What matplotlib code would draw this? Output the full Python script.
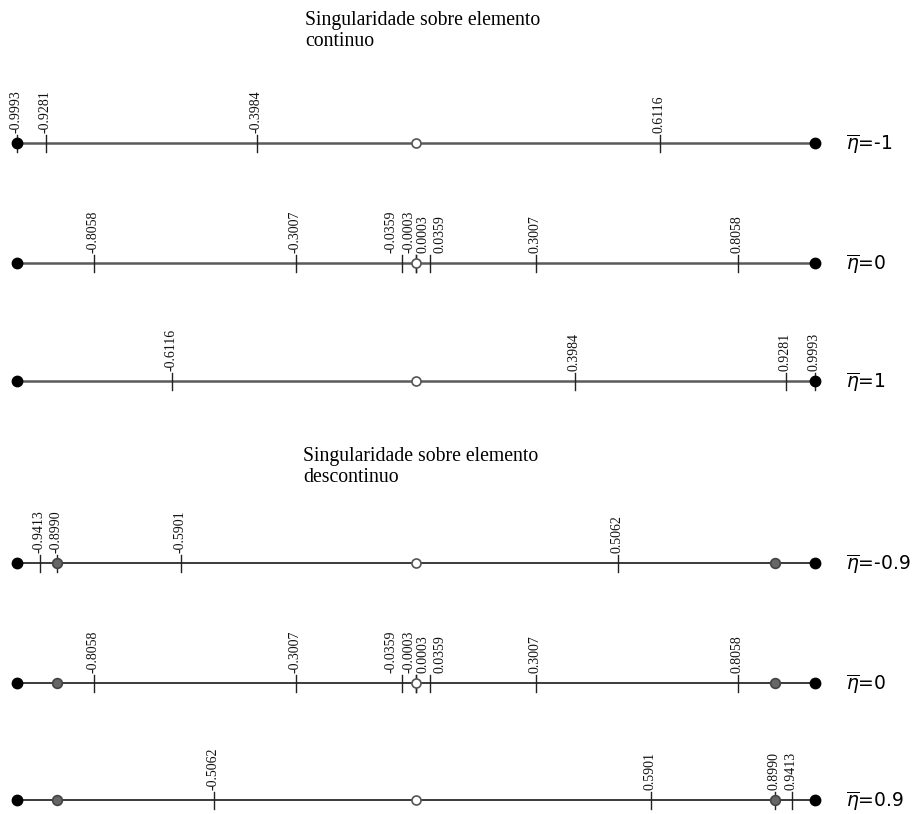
import matplotlib
matplotlib.use("Agg")
import matplotlib.pyplot as plt
import matplotlib.transforms as mtransforms

# ---- data ----
eta_values = ["-1", "0", "1", "-0.9", "0", "0.9"]
ticks_row1 = [-0.9993, -0.9281, -0.3984, 0.6116]
ticks_row2 = [-0.8058, -0.3007, -0.0359, -0.0003, 0.0003, 0.0359, 0.3007, 0.8058]
ticks_row3 = [-0.6116, 0.3984, 0.9281, 0.9993]
ticks_row4 = [-0.9413, -0.8990, -0.5901, 0.5062]
ticks_row5 = [-0.8058, -0.3007, -0.0359, -0.0003, 0.0003, 0.0359, 0.3007, 0.8058]
ticks_row6 = [-0.5062, 0.5901, 0.8990, 0.9413]
all_ticks = [ticks_row1, ticks_row2, ticks_row3, ticks_row4, ticks_row5, ticks_row6]
element_ends = [-1.0, 1.0]
element_center = 0.0
discontinuous_nodes = [-0.9, 0.9]
discontinuous_rows = [False, False, False, True, True, True]
title_line1 = "Singularidade sobre elemento"
title_cont = "continuo"
title_disc = "descontinuo"

# ---- layout ----
W, H = 922, 814
fig = plt.figure(figsize=(W / 100, H / 100), dpi=100)
ax = fig.add_axes([0, 0, 1, 1])
ax.axis("off")
cx, scale = 416.0, 399.0
ax.set_xlim((0 - cx) / scale, (W - cx) / scale)
ax.set_ylim(H, 0)

row_y = [143, 263, 381, 563, 683, 800]
tick_half = 8

def label_offset_px(v):
    if abs(v) < 0.001:
        return -6.5 if v < 0 else 6.5
    if abs(v) < 0.05:
        return -11 if v < 0 else 10
    return -1

for i, (y, ticks) in enumerate(zip(row_y, all_ticks)):
    disc = discontinuous_rows[i]
    lc = "#3a3a3a" if disc else "#5a5a5a"
    lw = 1.4 if disc else 1.8
    ax.plot(element_ends, [y, y], color=lc, lw=lw, zorder=1)
    for v in ticks:
        ax.plot([v, v], [y - tick_half, y + tick_half + 1], color="#222222", lw=1.0, zorder=2)
        tr = mtransforms.offset_copy(ax.transData, fig=fig,
                                     x=label_offset_px(v) * 0.72, y=0, units="points")
        ax.text(v, y - tick_half - 2, f"{v:.4f}", rotation=90, ha="center", va="bottom",
                fontsize=10, family="Liberation Serif", color="#111111", transform=tr)
    ax.plot(element_ends, [y, y], "o", ms=7.5, color="black", zorder=4, ls="none")
    ax.plot([element_center], [y], "o", ms=6.5, mfc="white", mec="#555555", mew=1.2, zorder=4)
    if disc:
        ax.plot(discontinuous_nodes, [y, y], "o", ms=7, mfc="#666666", mec="#444444",
                mew=1.2, zorder=4, ls="none")
    ax.text((846 - cx) / scale, y + 1, r"$\overline{\eta}$=" + eta_values[i], fontsize=13.5,
            family="DejaVu Sans", ha="left", va="center", color="black")

tx = (305 - cx) / scale
ax.text(tx, 25, title_line1, fontsize=14.2, family="Liberation Serif", ha="left", va="baseline")
ax.text(tx, 46, title_cont, fontsize=14.2, family="Liberation Serif", ha="left", va="baseline")
tx2 = (303 - cx) / scale
ax.text(tx2, 461, title_line1, fontsize=14.2, family="Liberation Serif", ha="left", va="baseline")
ax.text(tx2, 482, title_disc, fontsize=14.2, family="Liberation Serif", ha="left", va="baseline")

fig.savefig("out.png", dpi=100, facecolor="white")
